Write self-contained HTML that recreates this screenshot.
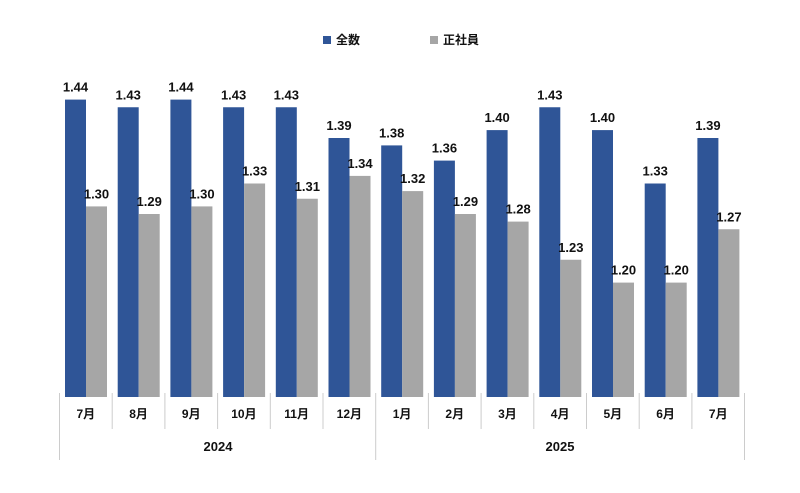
<!DOCTYPE html><html><head><meta charset="utf-8"><style>body{margin:0;background:#fff}svg{display:block}text{font-family:"Liberation Sans","Noto Sans CJK JP",sans-serif;font-weight:bold;fill:#111}.b{fill:#2f5597}.g{fill:#a6a6a6}.v{font-size:13px;text-anchor:middle}.m{font-size:12px;text-anchor:middle}line{stroke:#ccc}</style></head><body>
<svg width="800" height="493" xmlns="http://www.w3.org/2000/svg">
<rect x="323" y="36" width="8" height="8" class="b"/><text x="336" y="44" font-size="12">全数</text>
<rect x="430" y="36" width="8" height="8" class="g"/><text x="443" y="44" font-size="12">正社員</text>

<g transform="translate(59.5,0)"><rect x="5.5" y="99.6" width="21" height="297.4" class="b"/><rect x="26.5" y="206.4" width="21" height="190.6" class="g"/><text x="16" y="91.6" class="v">1.44</text><text x="37" y="198.4" class="v">1.30</text><text x="26.35" y="418" class="m">7月</text></g>
<g transform="translate(112.2,0)"><rect x="5.5" y="107.25" width="21" height="289.75" class="b"/><rect x="26.5" y="214" width="21" height="183" class="g"/><text x="16" y="99.25" class="v">1.43</text><text x="37" y="206" class="v">1.29</text><text x="26.35" y="418" class="m">8月</text><line x1="0" y1="393" x2="0" y2="429"/></g>
<g transform="translate(164.9,0)"><rect x="5.5" y="99.6" width="21" height="297.4" class="b"/><rect x="26.5" y="206.4" width="21" height="190.6" class="g"/><text x="16" y="91.6" class="v">1.44</text><text x="37" y="198.4" class="v">1.30</text><text x="26.35" y="418" class="m">9月</text><line x1="0" y1="393" x2="0" y2="429"/></g>
<g transform="translate(217.6,0)"><rect x="5.5" y="107.25" width="21" height="289.75" class="b"/><rect x="26.5" y="183.5" width="21" height="213.5" class="g"/><text x="16" y="99.25" class="v">1.43</text><text x="37" y="175.5" class="v">1.33</text><text x="26.35" y="418" class="m">10月</text><line x1="0" y1="393" x2="0" y2="429"/></g>
<g transform="translate(270.3,0)"><rect x="5.5" y="107.25" width="21" height="289.75" class="b"/><rect x="26.5" y="198.75" width="21" height="198.25" class="g"/><text x="16" y="99.25" class="v">1.43</text><text x="37" y="190.75" class="v">1.31</text><text x="26.35" y="418" class="m">11月</text><line x1="0" y1="393" x2="0" y2="429"/></g>
<g transform="translate(323,0)"><rect x="5.5" y="138" width="21" height="259" class="b"/><rect x="26.5" y="175.9" width="21" height="221.1" class="g"/><text x="16" y="130" class="v">1.39</text><text x="37" y="167.9" class="v">1.34</text><text x="26.35" y="418" class="m">12月</text><line x1="0" y1="393" x2="0" y2="429"/></g>
<g transform="translate(375.7,0)"><rect x="5.5" y="145.4" width="21" height="251.6" class="b"/><rect x="26.5" y="191.1" width="21" height="205.9" class="g"/><text x="16" y="137.4" class="v">1.38</text><text x="37" y="183.1" class="v">1.32</text><text x="26.35" y="418" class="m">1月</text><line x1="0" y1="393" x2="0" y2="460"/></g>
<g transform="translate(428.4,0)"><rect x="5.5" y="160.6" width="21" height="236.4" class="b"/><rect x="26.5" y="214" width="21" height="183" class="g"/><text x="16" y="152.6" class="v">1.36</text><text x="37" y="206" class="v">1.29</text><text x="26.35" y="418" class="m">2月</text><line x1="0" y1="393" x2="0" y2="429"/></g>
<g transform="translate(481.1,0)"><rect x="5.5" y="130.1" width="21" height="266.9" class="b"/><rect x="26.5" y="221.6" width="21" height="175.4" class="g"/><text x="16" y="122.1" class="v">1.40</text><text x="37" y="213.6" class="v">1.28</text><text x="26.35" y="418" class="m">3月</text><line x1="0" y1="393" x2="0" y2="429"/></g>
<g transform="translate(533.8,0)"><rect x="5.5" y="107.25" width="21" height="289.75" class="b"/><rect x="26.5" y="259.75" width="21" height="137.25" class="g"/><text x="16" y="99.25" class="v">1.43</text><text x="37" y="251.75" class="v">1.23</text><text x="26.35" y="418" class="m">4月</text><line x1="0" y1="393" x2="0" y2="429"/></g>
<g transform="translate(586.5,0)"><rect x="5.5" y="130.1" width="21" height="266.9" class="b"/><rect x="26.5" y="282.6" width="21" height="114.4" class="g"/><text x="16" y="122.1" class="v">1.40</text><text x="37" y="274.6" class="v">1.20</text><text x="26.35" y="418" class="m">5月</text><line x1="0" y1="393" x2="0" y2="429"/></g>
<g transform="translate(639.2,0)"><rect x="5.5" y="183.5" width="21" height="213.5" class="b"/><rect x="26.5" y="282.6" width="21" height="114.4" class="g"/><text x="16" y="175.5" class="v">1.33</text><text x="37" y="274.6" class="v">1.20</text><text x="26.35" y="418" class="m">6月</text><line x1="0" y1="393" x2="0" y2="429"/></g>
<g transform="translate(691.9,0)"><rect x="5.5" y="138" width="21" height="259" class="b"/><rect x="26.5" y="229.25" width="21" height="167.75" class="g"/><text x="16" y="130" class="v">1.39</text><text x="37" y="221.25" class="v">1.27</text><text x="26.35" y="418" class="m">7月</text><line x1="0" y1="393" x2="0" y2="429"/></g>

<line x1="59.5" y1="393" x2="59.5" y2="460"/><line x1="744.5" y1="393" x2="744.5" y2="460"/>
<text x="218" y="451" font-size="13" text-anchor="middle">2024</text><text x="560" y="451" font-size="13" text-anchor="middle">2025</text>
</svg></body></html>
